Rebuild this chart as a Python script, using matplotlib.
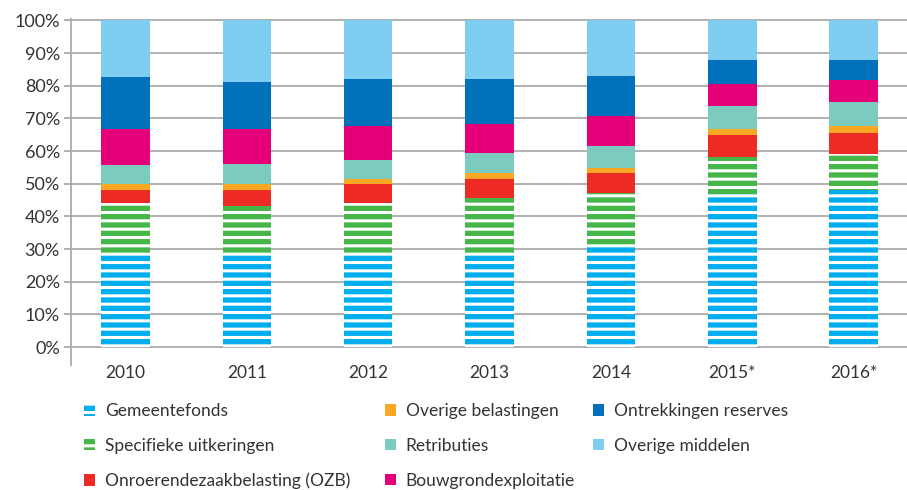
import matplotlib.pyplot as plt
import numpy as np

plt.rcParams['font.family'] = ['Lato', 'DejaVu Sans']
plt.rcParams['hatch.linewidth'] = 2.2

# Data (aandeel in %, gelezen uit de figuur)
jaren = ['2010', '2011', '2012', '2013', '2014', '2015*', '2016*']
gemeentefonds = [28.3, 28.4, 28.6, 28.7, 30.5, 46.9, 48.0]
specifieke_uitkeringen = [15.7, 14.7, 15.4, 16.8, 16.5, 11.3, 11.0]
ozb = [4.0, 4.9, 5.9, 5.8, 6.2, 6.6, 6.4]
overige_belastingen = [1.9, 2.0, 1.4, 1.9, 1.5, 1.8, 2.4]
retributies = [5.7, 5.9, 6.1, 6.1, 6.7, 7.1, 7.1]
bouwgrond = [11.0, 10.7, 10.3, 9.1, 9.4, 6.9, 6.9]
onttrekkingen = [16.0, 14.4, 14.2, 13.5, 12.1, 7.2, 6.0]
overige_middelen = [17.4, 19.0, 18.1, 18.1, 17.1, 12.2, 12.2]

reeksen = [
    ('Gemeentefonds', gemeentefonds, '#00aeef', True),
    ('Specifieke uitkeringen', specifieke_uitkeringen, '#46b649', True),
    ('Onroerendezaakbelasting (OZB)', ozb, '#ee2a24', False),
    ('Overige belastingen', overige_belastingen, '#f9a823', False),
    ('Retributies', retributies, '#7bcbbf', False),
    ('Bouwgrondexploitatie', bouwgrond, '#e5007a', False),
    ('Ontrekkingen reserves', onttrekkingen, '#0071ba', False),
    ('Overige middelen', overige_middelen, '#7fcef1', False),
]

W, H = 907, 490
fig = plt.figure(figsize=(W / 100, H / 100), dpi=100)
ax = fig.add_axes([71 / W, 1 - 365 / H, 1 - 71 / W, (365 - 18.7) / H])

x = np.arange(len(jaren))
bottom = np.zeros(len(jaren))
handles = []
for naam, waarden, kleur, streep in reeksen:
    if streep:
        b = ax.bar(x, waarden, 0.4, bottom=bottom, color=kleur, hatch='--',
                   edgecolor='white', linewidth=0, label=naam)
    else:
        b = ax.bar(x, waarden, 0.4, bottom=bottom, color=kleur, linewidth=0, label=naam)
    handles.append(b)
    bottom += np.array(waarden)

ax.set_xlim(-0.449, 6.44)
ax.set_ylim(-5.5, 100.5)
ax.set_yticks(range(0, 101, 10))
ax.set_yticklabels([f'{v}%' for v in range(0, 101, 10)])
ax.set_xticks(x)
ax.set_xticklabels(jaren)
ax.yaxis.grid(True, color='#aaaaaa', linewidth=1.3)
ax.set_axisbelow(True)
for s in ['top', 'right', 'bottom']:
    ax.spines[s].set_visible(False)
ax.spines['left'].set_color('#aaaaaa')
ax.spines['left'].set_linewidth(1.3)
ax.tick_params(axis='y', length=5, color='#aaaaaa', width=1.3, labelsize=13,
               labelcolor='#333333', pad=3)
ax.tick_params(axis='x', length=0, labelsize=12.5, labelcolor='#333333', pad=0)

# Legenda in drie kolommen
kolommen = [(handles[0:3], 84), (handles[3:6], 385), (handles[6:8], 593)]
for hs, xpos in kolommen:
    fig.legend(handles=hs, loc='upper left', bbox_to_anchor=(xpos / W, 1 - 403 / H),
               frameon=False, fontsize=12.5, handlelength=0.65, handleheight=0.65,
               handletextpad=0.55, labelspacing=1.08, borderpad=0, borderaxespad=0,
               labelcolor='#333333')

fig.savefig('out.png', dpi=100)
